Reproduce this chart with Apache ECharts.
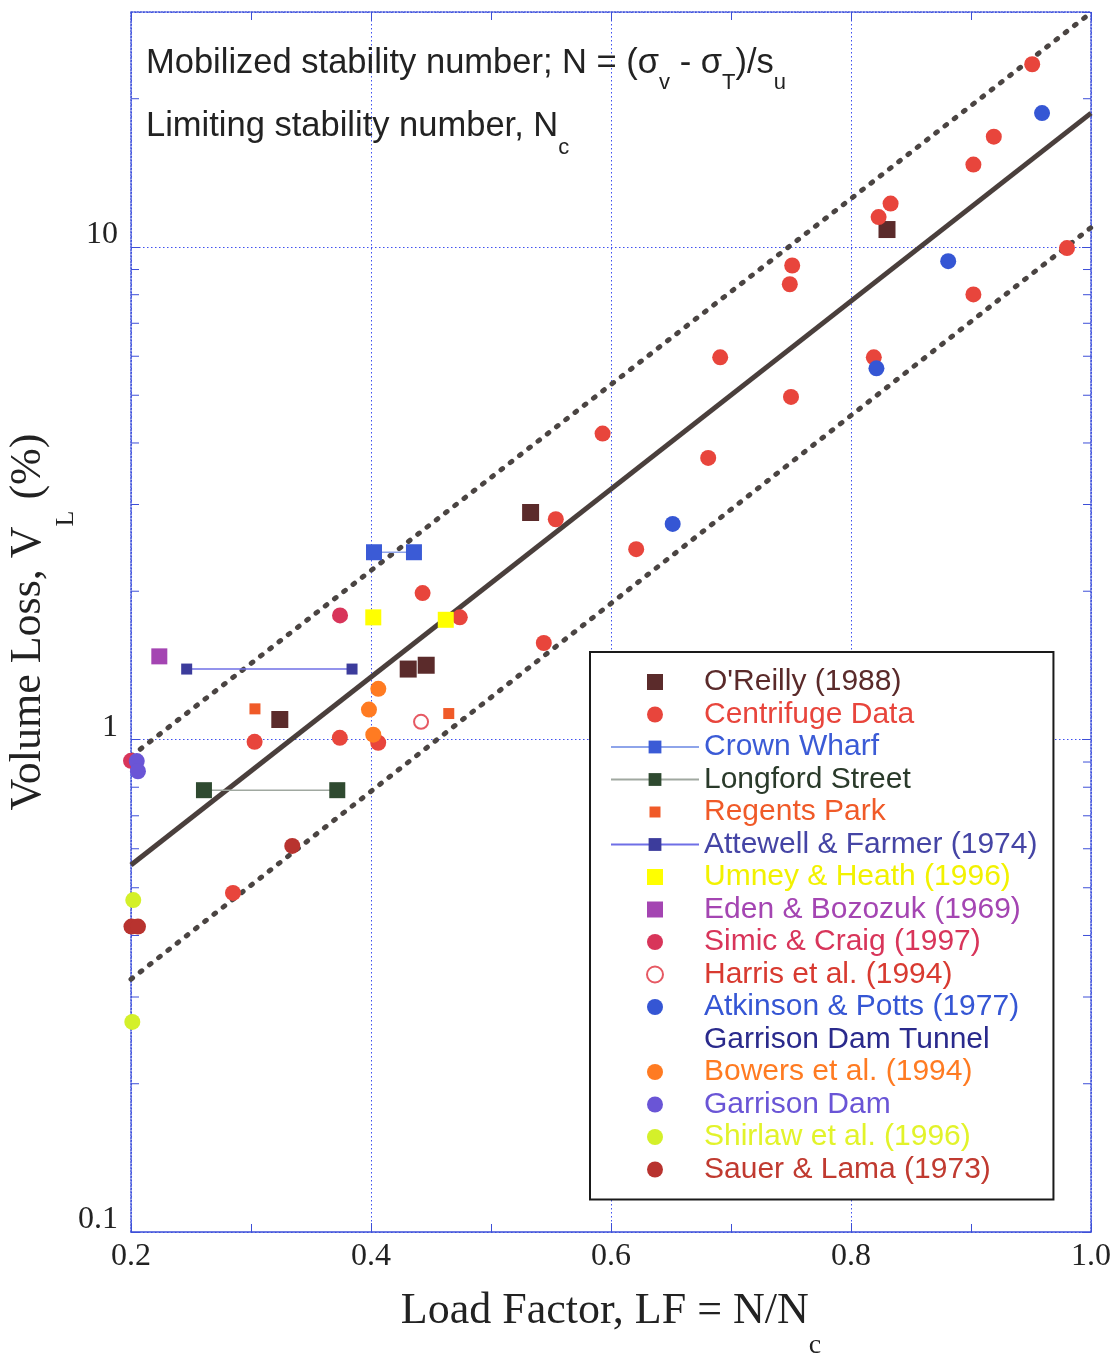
<!DOCTYPE html>
<html><head><meta charset="utf-8">
<script src="https://cdn.jsdelivr.net/npm/echarts@6/dist/echarts.min.js"></script>
<style>html,body{margin:0;padding:0;background:#fff}#c{width:1119px;height:1354px}</style>
</head><body><div id="c"></div>
<script>
// ---- axis ticks ----
const xTickLabels = ['0.2','0.4','0.6','0.8','1.0'];
const yTickLabels = ['0.1','1','10'];
const yMinorTicks = [0.2,0.3,0.4,0.5,0.6,0.7,0.8,0.9,2,3,4,5,6,7,8,9,20];

// ---- fitted lines ----
const fitX = [0.2, 1.0];
const fitMeanY = [0.556, 18.7];
const fitUpperY = [0.924, 29.9];
const fitLowerY = [0.326, 10.95];

// ---- data series ----
const oreillyX = [0.830, 0.533, 0.431, 0.446, 0.324];
const oreillyY = [10.85, 2.89, 1.39, 1.415, 1.098];

const centrifugeX = [0.951, 0.919, 0.902, 0.833, 0.823, 0.751, 0.749, 0.980, 0.902, 0.691, 0.819, 0.750, 0.593, 0.681, 0.554, 0.621, 0.443, 0.474, 0.544, 0.303, 0.374, 0.406, 0.285];
const centrifugeY = [23.5, 16.75, 14.7, 12.25, 11.5, 9.17, 8.4, 9.95, 8.01, 5.97, 5.97, 4.96, 4.18, 3.73, 2.80, 2.435, 1.983, 1.77, 1.57, 0.989, 1.008, 0.985, 0.488];

const crownX = [0.4025, 0.4358];
const crownY = [2.40, 2.40];

const longfordX = [0.2608, 0.3719];
const longfordY = [0.789, 0.789];

const regentsX = [0.3033, 0.4648];
const regentsY = [1.154, 1.129];

const attewellX = [0.2464, 0.3842];
const attewellY = [1.39, 1.39];

const umneyX = [0.4019, 0.4623];
const umneyY = [1.77, 1.75];

const edenX = [0.2236];
const edenY = [1.475];

const simicX = [0.3742, 0.2000];
const simicY = [1.786, 0.905];

const harrisX = [0.4417];
const harrisY = [1.086];

const atkinsonX = [0.9592, 0.881, 0.8212, 0.6514];
const atkinsonY = [18.7, 9.36, 5.67, 2.74];

const bowersX = [0.4061, 0.3983, 0.4019];
const bowersY = [1.267, 1.15, 1.023];

const garrisonX = [0.2048, 0.2058];
const garrisonY = [0.904, 0.862];

const shirlawX = [0.2019, 0.2011];
const shirlawY = [0.472, 0.267];

const sauerX = [0.3344, 0.2004, 0.2058];
const sauerY = [0.608, 0.417, 0.417];

const zip = (xs, ys) => xs.map((x, i) => [x, ys[i]]);

const AX = '#3d4fd8';
const GRIDC = '#3f50f0';
const SANS = 'Liberation Sans';
const SERIF = 'Liberation Serif';

const SQ_BIG = 'path://M0 0h10v10h-10z';
const SQ_SMALL = 'path://M0 0M16 16M2.5 2.5h11v11h-11z';

function scatter(name, xs, ys, color, symbol, size, extra) {
  return Object.assign({
    name, type: 'scatter', data: zip(xs, ys), symbol, symbolSize: size, z: 5,
    itemStyle: { color, opacity: 1 }, silent: true
  }, extra || {});
}
function linked(name, xs, ys, color, lineColor, size) {
  return {
    name, type: 'line', data: zip(xs, ys), symbol: 'rect', symbolSize: size, showSymbol: true, z: 5,
    itemStyle: { color }, lineStyle: { color: lineColor, width: 1.5 }, silent: true, animation: false
  };
}
function fitLine(ys, dotted) {
  return {
    type: 'line', data: zip(fitX, ys), symbol: 'none', z: 3, silent: true,
    lineStyle: dotted
      ? { color: '#4a4442', width: 5, type: [2, 9.7], cap: 'round' }
      : { color: '#4a3f3c', width: 5 }
  };
}

const legendItems = [
  ['O\'Reilly (1988)', '#5a2a2a', SQ_BIG],
  ['Centrifuge Data', '#e8453c', null],
  ['Crown Wharf', '#3b5bd6', null],
  ['Longford Street', '#2a3a2a', null],
  ['Regents Park', '#f05a28', SQ_SMALL],
  ['Attewell & Farmer (1974)', '#4545a5', null],
  ['Umney & Heath (1996)', '#f2f200', SQ_BIG],
  ['Eden & Bozozuk (1969)', '#a445b2', SQ_BIG],
  ['Simic & Craig (1997)', '#d8355a', null],
  ['Harris et al. (1994)', '#d83a30', null],
  ['Atkinson & Potts (1977)', '#3556d4', null],
  ['Garrison Dam Tunnel', '#2a2a8c', null],
  ['Bowers et al. (1994)', '#ff7b22', null],
  ['Garrison Dam', '#6a55d6', null],
  ['Shirlaw et al. (1996)', '#e2f32a', null],
  ['Sauer & Lama (1973)', '#c03a30', null]
];

const option = {
  animation: false,
  backgroundColor: '#fff',
  grid: { left: 131, right: 28, top: 12, bottom: 122, containLabel: false, outerBoundsMode: 'none' },
  xAxis: [{
    type: 'value', min: 0.2, max: 1.0, interval: 0.2, position: 'bottom',
    axisLine: { show: true, lineStyle: { color: AX, width: 1.5 } },
    axisTick: { show: true, inside: true, length: 9, lineStyle: { color: AX } },
    minorTick: { show: true, splitNumber: 2, length: 8, lineStyle: { color: AX } },
    splitLine: { show: true, lineStyle: { color: GRIDC, type: [1.5, 2.5], width: 1 } },
    axisLabel: { fontFamily: SERIF, fontSize: 32, color: '#222', margin: 9,
      formatter: v => { const i = Math.round((v - 0.2) / 0.2); return xTickLabels[i] || ''; } },
    name: '{m|Load Factor, LF = N/N}{s|c}',
    nameLocation: 'middle', nameGap: 30, nameMoveOverlap: false,
    nameTextStyle: { rich: {
      m: { fontFamily: SERIF, fontSize: 44, color: '#222', lineHeight: 98 },
      s: { fontFamily: SERIF, fontSize: 28, color: '#222', padding: [70, 0, 0, 0] }
    } }
  }, {
    type: 'value', min: 0.2, max: 1.0, interval: 0.2, position: 'top',
    axisLine: { show: true, lineStyle: { color: AX, width: 1.5, type: 'dotted' } },
    axisTick: { show: true, inside: true, length: 9, lineStyle: { color: AX } },
    minorTick: { show: true, splitNumber: 2, length: 8, lineStyle: { color: AX } },
    splitLine: { show: false }, axisLabel: { show: false }
  }],
  yAxis: [{
    type: 'log', logBase: 10, min: 0.1, max: 30, position: 'left',
    axisLine: { show: true, lineStyle: { color: AX, width: 1.5, type: 'dotted' } },
    axisTick: { show: true, inside: true, length: 9, lineStyle: { color: AX } },
    splitLine: { show: true, lineStyle: { color: GRIDC, type: [1.5, 2.5], width: 1 } },
    axisLabel: { fontFamily: SERIF, fontSize: 32, color: '#222', margin: 13,
      verticalAlign: 'bottom', lineHeight: 24,
      showMaxLabel: false,
      formatter: v => { const l = Math.log10(v); const e = Math.round(l);
        if (Math.abs(l - e) > 1e-6) return ''; return yTickLabels[e + 1] || ''; } },
    name: '{m|Volume Loss, V}{s|L}{m| (%)}',
    nameLocation: 'middle', nameGap: 52, nameRotate: 90, nameMoveOverlap: false,
    nameTextStyle: { rich: {
      m: { fontFamily: SERIF, fontSize: 44, color: '#222', lineHeight: 102 },
      s: { fontFamily: SERIF, fontSize: 26, color: '#222', padding: [76, 0, 0, 0] }
    } }
  }, {
    type: 'log', logBase: 10, min: 0.1, max: 30, position: 'right',
    axisLine: { show: true, lineStyle: { color: AX, width: 1.5, type: 'dotted' } },
    axisTick: { show: true, inside: true, length: 9, lineStyle: { color: AX } },
    splitLine: { show: false }, axisLabel: { show: false }
  }],
  legend: {
    orient: 'vertical', left: 590, top: 652, padding: [14, 16, 14, 20],
    itemWidth: 88, itemHeight: 16, itemGap: 0.5,
    borderColor: '#1a1a1a', borderWidth: 2, backgroundColor: '#fff', z: 10,
    selectedMode: false, symbolKeepAspect: true,
    textStyle: { fontFamily: SANS, fontSize: 30, lineHeight: 32 },
    data: legendItems.map(([name, color, icon]) => {
      const d = { name, textStyle: { color } };
      if (icon) d.icon = icon;
      return d;
    })
  },
  graphic: [{
    type: 'text', x: 146, y: 32, z: 20,
    style: {
      text: '{m|Mobilized stability number; N = (σ}{s|v}{m| - σ}{s|T}{m|)/s}{s|u}',
      verticalAlign: 'top',
      rich: {
        m: { fontFamily: SANS, fontSize: 34.5, fill: '#222', lineHeight: 62 },
        s: { fontFamily: SANS, fontSize: 22, fill: '#222', padding: [40, 0, 0, 0] }
      }
    }
  }, {
    type: 'text', x: 146, y: 93, z: 20,
    style: {
      text: '{m|Limiting stability number, N}{s|c}',
      verticalAlign: 'top',
      rich: {
        m: { fontFamily: SANS, fontSize: 34.5, fill: '#222', lineHeight: 66 },
        s: { fontFamily: SANS, fontSize: 22, fill: '#222', padding: [44, 0, 0, 0] }
      }
    }
  }],
  series: [
    {
      type: 'custom', silent: true, z: 2,
      data: yMinorTicks.map(v => [0.2, v]),
      renderItem: (params, api) => {
        const v = api.value(1);
        const l = api.coord([0.2, v]);
        const r = api.coord([1.0, v]);
        const st = { stroke: AX, lineWidth: 1 };
        return { type: 'group', children: [
          { type: 'line', shape: { x1: l[0], y1: l[1], x2: l[0] + 8, y2: l[1] }, style: st },
          { type: 'line', shape: { x1: r[0], y1: r[1], x2: r[0] - 8, y2: r[1] }, style: st }
        ] };
      }
    },
    fitLine(fitMeanY, false),
    fitLine(fitUpperY, true),
    fitLine(fitLowerY, true),
    scatter('O\'Reilly (1988)', oreillyX, oreillyY, '#5b2b2b', 'rect', 17),
    scatter('Centrifuge Data', centrifugeX, centrifugeY, '#e8453c', 'circle', 16),
    linked('Crown Wharf', crownX, crownY, '#3b5bd6', '#8ea4ea', 16),
    linked('Longford Street', longfordX, longfordY, '#2f4a30', '#a0a8a0', 16),
    scatter('Regents Park', regentsX, regentsY, '#f05a28', 'rect', 11),
    linked('Attewell & Farmer (1974)', attewellX, attewellY, '#3c3c9c', '#6f6fe6', 11),
    scatter('Umney & Heath (1996)', umneyX, umneyY, '#ffff00', 'rect', 16),
    scatter('Eden & Bozozuk (1969)', edenX, edenY, '#a445b2', 'rect', 16),
    scatter('Simic & Craig (1997)', simicX, simicY, '#d8355a', 'circle', 16),
    scatter('Harris et al. (1994)', harrisX, harrisY, '#e0303c', 'emptyCircle', 14,
      { itemStyle: { color: '#e0303c', borderColor: '#e0303c', borderWidth: 1.5 } }),
    scatter('Atkinson & Potts (1977)', atkinsonX, atkinsonY, '#3556d4', 'circle', 16),
    scatter('Garrison Dam Tunnel', [], [], 'rgba(0,0,0,0)', 'circle', 1),
    scatter('Bowers et al. (1994)', bowersX, bowersY, '#ff7b22', 'circle', 16),
    scatter('Garrison Dam', garrisonX, garrisonY, '#6a55d6', 'circle', 16),
    scatter('Shirlaw et al. (1996)', shirlawX, shirlawY, '#d4f02a', 'circle', 16),
    scatter('Sauer & Lama (1973)', sauerX, sauerY, '#b8332f', 'circle', 16)
  ]
};

const chart = echarts.init(document.getElementById('c'), null, { renderer: 'canvas' });
chart.setOption(option);
</script>
</body></html>
